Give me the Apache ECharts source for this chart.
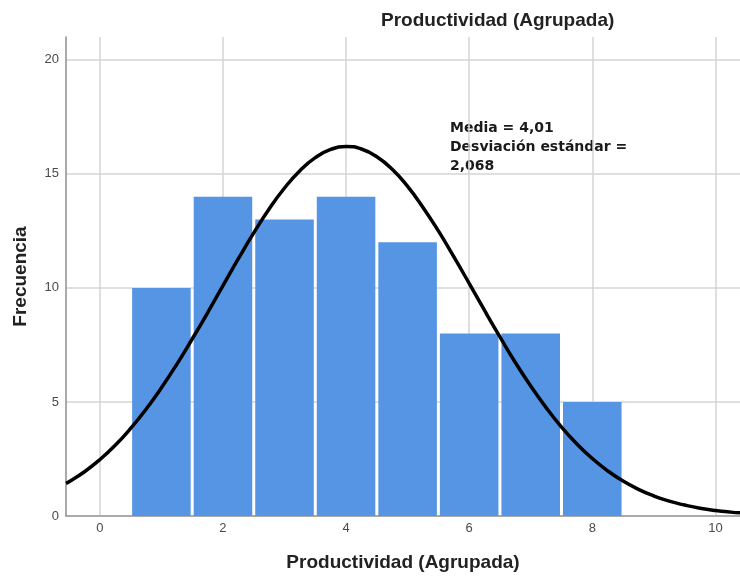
<!DOCTYPE html>
<html>
<head>
<meta charset="utf-8">
<script src="https://cdn.jsdelivr.net/npm/echarts@6/dist/echarts.min.js"></script>
<style>
  html, body { margin: 0; padding: 0; background: #fff; }
  #chart { width: 740px; height: 576px; }
</style>
</head>
<body>
<div id="chart"></div>
<script>
// histogram bins (Productividad agrupada) and counts
var bins = [1, 2, 3, 4, 5, 6, 7, 8];
var counts = [10, 14, 13, 14, 12, 8, 8, 5];

// fitted normal curve (media 4,01, desv. 2,068)
var curveX = [-0.55, -0.5, -0.25, 0, 0.25, 0.5, 0.75, 1, 1.25, 1.5, 1.75, 2, 2.25, 2.5, 2.75, 3, 3.25, 3.5, 3.75, 4,
              4.25, 4.5, 4.75, 5, 5.25, 5.5, 5.75, 6, 6.25, 6.5, 6.75, 7, 7.25, 7.5, 7.75, 8, 8.25, 8.5, 8.75,
              9, 9.25, 9.5, 9.75, 10, 10.25, 10.5];
var curveY = [1.43, 1.50, 1.94, 2.47, 3.10, 3.84, 4.68, 5.62, 6.65, 7.76, 8.91, 10.10, 11.28, 12.41, 13.46, 14.38, 15.14, 15.71, 16.07, 16.20,
              16.09, 15.75, 15.20, 14.45, 13.53, 12.50, 11.37, 10.20, 9.01, 7.85, 6.73, 5.70, 4.75, 3.90, 3.16, 2.52, 1.98, 1.53, 1.17,
              0.88, 0.65, 0.48, 0.34, 0.24, 0.17, 0.12];

var xTicks = [0, 2, 4, 6, 8, 10];
var yTicks = [0, 5, 10, 15, 20];

var histData = bins.map(function (b, i) { return [b, counts[i]]; });
var curveData = curveX.map(function (x, i) { return [x, curveY[i]]; });

var chart = echarts.init(document.getElementById('chart'));

var titleFont = { fontFamily: 'Liberation Sans', fontSize: 19, fontWeight: 'bold', color: '#222' };
var tickFont = { color: '#4a4a4a', fontFamily: 'Liberation Sans', fontSize: 13 };

var option = {
    backgroundColor: '#fff',
    animation: false,
    title: {
        text: 'Productividad (Agrupada)',
        left: 376,
        top: 6,
        textStyle: titleFont
    },
    grid: { left: 66, right: 0, top: 37, bottom: 60, outerBoundsMode: 'none', containLabel: false },
    xAxis: {
        type: 'value',
        min: -0.55,
        max: 10.4,
        name: 'Productividad (Agrupada)',
        nameLocation: 'middle',
        nameGap: 37,
        nameTextStyle: titleFont,
        axisLine: { onZero: false, lineStyle: { color: '#999', width: 1.5 } },
        axisTick: { show: false, customValues: xTicks },
        axisLabel: Object.assign({ customValues: xTicks, margin: 6 }, tickFont),
        splitLine: { show: true, lineStyle: { color: '#d4d4d4', width: 1.5 } }
    },
    yAxis: {
        type: 'value',
        min: 0,
        max: 21,
        name: 'Frecuencia',
        nameLocation: 'middle',
        nameGap: 36,
        nameTextStyle: titleFont,
        axisLine: { show: true, onZero: false, lineStyle: { color: '#8c8c8c', width: 1.5 } },
        axisTick: { show: false, customValues: yTicks },
        axisLabel: Object.assign({ customValues: yTicks, margin: 7 }, tickFont),
        splitLine: { show: true, lineStyle: { color: '#d4d4d4', width: 1.5 } }
    },
    graphic: [{
        type: 'text',
        left: 450,
        top: 119,
        style: {
            text: 'Media = 4,01\nDesviación estándar =\n2,068',
            font: 'bold 14px "DejaVu Sans"',
            lineHeight: 19,
            fill: '#1a1a1a'
        }
    }],
    series: [{
        type: 'custom',
        data: histData,
        renderItem: function (params, api) {
            var x = api.value(0), y = api.value(1);
            var p0 = api.coord([x - 0.5, y]);
            var p1 = api.coord([x + 0.5, 0]);
            return {
                type: 'rect',
                shape: { x: p0[0] + 1.5, y: p0[1], width: p1[0] - p0[0] - 3, height: p1[1] - p0[1] },
                style: { fill: '#5595e4' }
            };
        }
    }, {
        type: 'line',
        data: curveData,
        smooth: true,
        symbol: 'none',
        lineStyle: { color: '#000', width: 3.5 },
        z: 5
    }]
};

chart.setOption(option);
</script>
</body>
</html>
